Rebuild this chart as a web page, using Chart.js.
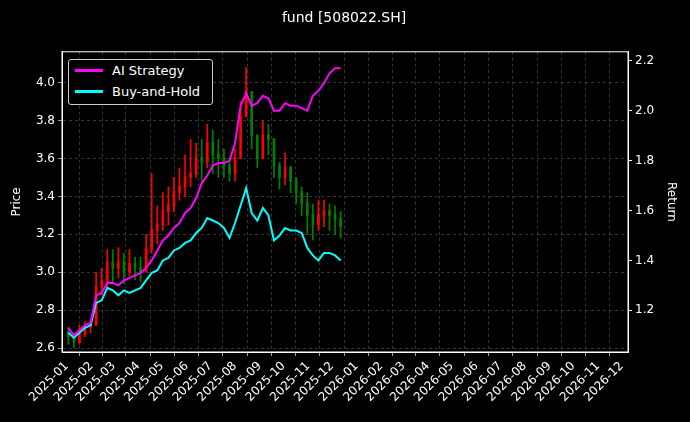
<!DOCTYPE html>
<html><head><meta charset="utf-8">
<script src="https://cdn.jsdelivr.net/npm/chart.js@4"></script>
<style>
body{margin:0;background:#000;}
#wrap{position:relative;width:690px;height:422px;}
#legend{position:absolute;left:68px;top:59px;width:143px;height:44px;border:1px solid #ccc;border-radius:3px;background:#000;font:13px "DejaVu Sans";color:#fff;}
#legend div{height:21px;display:flex;align-items:center;padding-left:6px;}
#legend span{display:inline-block;width:28px;height:3px;margin-right:9px;}
</style></head><body>
<div id="wrap"><canvas id="c" width="690" height="422"></canvas>
<div id="legend"><div><span style="background:#ff00ff"></span>AI Strategy</div><div><span style="background:#00ffff"></span>Buy-and-Hold</div></div></div>
<script>
// weekly dates (days since 2025-01-01)
const days = [2,9,16,23,30,37,44,51,58,65,72,79,86,93,100,107,114,121,128,135,142,149,156,163,170,177,184,191,198,205,212,219,226,233,240,247,254,261,268,275,282,289,296,303,310,317,324,331,338,345];
const closes = [2.66,2.63,2.67,2.71,2.72,2.92,2.95,3.05,3.02,3.05,3.0,3.04,3.02,3.0,3.12,3.22,3.25,3.32,3.35,3.42,3.45,3.5,3.52,3.6,3.58,3.68,3.62,3.6,3.56,3.52,3.6,3.82,3.95,3.72,3.6,3.72,3.7,3.56,3.5,3.55,3.48,3.42,3.36,3.3,3.25,3.3,3.32,3.3,3.28,3.24];
const highs = [2.71,2.68,2.72,2.74,2.75,3.0,3.02,3.12,3.12,3.13,3.1,3.12,3.08,3.08,3.2,3.52,3.35,3.42,3.45,3.5,3.55,3.62,3.7,3.68,3.7,3.78,3.75,3.7,3.65,3.6,3.65,3.9,4.08,3.95,3.72,3.8,3.78,3.68,3.58,3.63,3.56,3.5,3.45,3.42,3.36,3.38,3.38,3.36,3.35,3.32];
const lows = [2.62,2.6,2.62,2.66,2.68,2.72,2.88,2.92,2.95,2.97,2.94,2.98,2.96,2.95,3.0,3.1,3.15,3.22,3.25,3.32,3.38,3.4,3.45,3.5,3.48,3.55,3.52,3.5,3.5,3.48,3.48,3.7,3.85,3.65,3.55,3.6,3.62,3.5,3.44,3.46,3.42,3.36,3.3,3.2,3.17,3.22,3.24,3.22,3.2,3.18];
const aiReturn = [1.13,1.10,1.12,1.14,1.15,1.26,1.27,1.31,1.31,1.30,1.32,1.33,1.34,1.35,1.37,1.40,1.44,1.48,1.50,1.53,1.55,1.59,1.61,1.65,1.71,1.74,1.78,1.79,1.79,1.80,1.87,2.02,2.07,2.02,2.03,2.06,2.05,2.00,2.00,2.03,2.02,2.02,2.01,2.00,2.06,2.08,2.11,2.15,2.17,2.17];
const bhReturn = [1.11,1.09,1.11,1.13,1.14,1.23,1.24,1.29,1.28,1.26,1.28,1.27,1.28,1.29,1.32,1.35,1.36,1.40,1.41,1.44,1.45,1.47,1.48,1.51,1.53,1.57,1.56,1.55,1.53,1.49,1.55,1.62,1.69,1.59,1.56,1.61,1.58,1.48,1.50,1.53,1.52,1.52,1.51,1.45,1.42,1.40,1.43,1.43,1.42,1.40];
const monthLabels = ['2025-01','2025-02','2025-03','2025-04','2025-05','2025-06','2025-07','2025-08','2025-09','2025-10','2025-11','2025-12','2026-01','2026-02','2026-03','2026-04','2026-05','2026-06','2026-07','2026-08','2026-09','2026-10','2026-11','2026-12'];

const monthDays = monthLabels.map(m => (Date.UTC(+m.slice(0,4), +m.slice(5)-1, 1) - Date.UTC(2025,0,1)) / 86400000);
const opens = closes.map((c, i) => i === 0 ? 2.68 : closes[i-1]);
const candleCol = closes.map((c, i) => c >= opens[i] ? '#ff0000' : '#008000');

const grid = {color: 'rgba(150,150,150,0.6)', lineWidth: 0.6, tickColor: '#fff', tickLength: 4};
const border = {color: '#fff', dash: [3,3]};
new Chart(document.getElementById('c'), {
  data: {
    datasets: [
      {type: 'bar', yAxisID: 'y', data: days.map((d, i) => ({x: d, y: [lows[i], highs[i]]})), backgroundColor: candleCol, barThickness: 1, grouped: false, order: 3},
      {type: 'bar', yAxisID: 'y', data: days.map((d, i) => ({x: d, y: [Math.min(opens[i], closes[i]), Math.max(opens[i], closes[i]) + 0.005]})), backgroundColor: candleCol, barThickness: 2, grouped: false, order: 3},
      {type: 'line', yAxisID: 'y1', label: 'AI Strategy', data: days.map((d, i) => ({x: d, y: aiReturn[i]})), borderColor: '#ff00ff', borderWidth: 2, pointRadius: 0, order: 1},
      {type: 'line', yAxisID: 'y1', label: 'Buy-and-Hold', data: days.map((d, i) => ({x: d, y: bhReturn[i]})), borderColor: '#00ffff', borderWidth: 2, pointRadius: 0, order: 1}
    ]
  },
  options: {
    animation: false, responsive: false,
    layout: {padding: {top: 0, left: 10, right: 12}},
    plugins: {
      legend: {display: false}, tooltip: {enabled: false},
      title: {display: true, text: 'fund [508022.SH]', color: '#fff', font: {family: 'DejaVu Sans', size: 14, weight: 'normal'}, padding: {top: 10, bottom: 25}}
    },
    scales: {
      x: {type: 'linear', min: -6, max: 707, offset: false,
        afterBuildTicks: s => { s.ticks = monthDays.map(v => ({value: v})); },
        ticks: {color: '#fff', font: {family: 'DejaVu Sans', size: 12}, maxRotation: 45, minRotation: 45, autoSkip: false,
          callback: (v) => monthLabels[monthDays.indexOf(v)]},
        grid: grid, border: border,
        afterFit: s => { s.height = 70; }
      },
      y: {position: 'left', min: 2.579, max: 4.163,
        afterBuildTicks: s => { s.ticks = [2.6,2.8,3.0,3.2,3.4,3.6,3.8,4.0].map(v => ({value: v})); },
        ticks: {color: '#fff', font: {family: 'DejaVu Sans', size: 12}, callback: v => v.toFixed(1)},
        title: {display: true, text: 'Price', color: '#fff', font: {family: 'DejaVu Sans', size: 12}, padding: 0},
        grid: grid, border: border,
        afterFit: s => { s.width = 52; }
      },
      y1: {position: 'right', min: 1.033, max: 2.236,
        afterBuildTicks: s => { s.ticks = [1.2,1.4,1.6,1.8,2.0,2.2].map(v => ({value: v})); },
        ticks: {color: '#fff', font: {family: 'DejaVu Sans', size: 12}, callback: v => v.toFixed(1)},
        title: {display: true, text: 'Return', color: '#fff', font: {family: 'DejaVu Sans', size: 12}, padding: 0},
        grid: {drawOnChartArea: false, tickColor: '#fff', tickLength: 4}, border: {color: '#fff'},
        afterFit: s => { s.width = 50; }
      }
    }
  },
  plugins: [{id: 'frame', afterDraw(c) {
    const a = c.chartArea, g = c.ctx;
    g.save(); g.strokeStyle = '#fff'; g.lineWidth = 1; g.strokeRect(a.left, a.top, a.right - a.left, a.bottom - a.top); g.restore();
  }}]
});
</script></body></html>
